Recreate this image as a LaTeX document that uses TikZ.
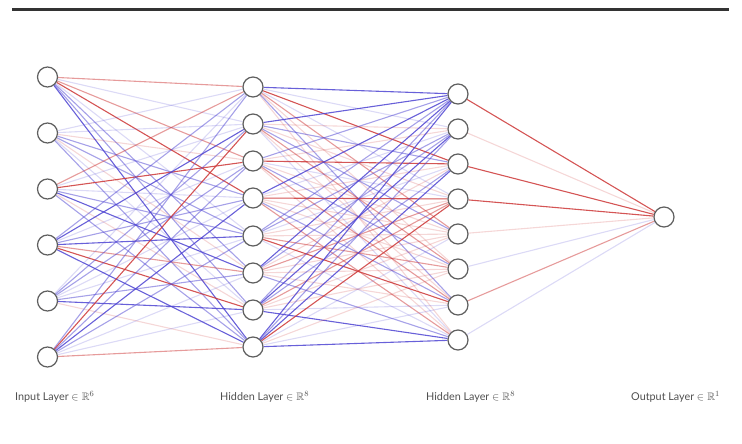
\documentclass[tikz,border=0pt]{standalone}
\usepackage{fontspec}
\usepackage{amssymb}
\usetikzlibrary{backgrounds}
\setmainfont{Lato}
\definecolor{wred}{RGB}{205,55,55}
\definecolor{wblue}{RGB}{78,68,210}
\definecolor{ringgray}{RGB}{95,95,95}
\definecolor{labelgray}{RGB}{80,80,80}
\tikzset{
  neuron/.style={circle,draw=ringgray,fill=white,line width=1.2pt,minimum size=20pt,inner sep=0pt},
  wire/.style={line width=1.1pt},
  R3/.style={wire,draw=wred,draw opacity=0.85},
  R2/.style={wire,draw=wred,draw opacity=0.5},
  R1/.style={wire,draw=wred,draw opacity=0.2},
  B3/.style={wire,draw=wblue,draw opacity=0.85},
  B2/.style={wire,draw=wblue,draw opacity=0.5},
  B1/.style={wire,draw=wblue,draw opacity=0.2},
  layerlabel/.style={anchor=west,text=labelgray,font=\fontsize{10.8}{12}\selectfont,inner sep=0pt}
}
\begin{document}
\begin{tikzpicture}[x=1pt,y=-1pt]
\useasboundingbox (0,0) rectangle (742,444);
% rule across the top
\draw[line width=3pt,draw=black!80] (12,9.5) -- (729,9.5);

% neurons
\foreach \k/\y in {1/77,2/133,3/189,4/245,5/301,6/357}
  \node[neuron] (i\k) at (47.5,\y) {};
\foreach \k/\y in {1/87,2/124,3/161,4/198,5/236,6/273,7/310,8/347}
  \node[neuron] (h\k) at (253,\y) {};
\foreach \k/\y in {1/94,2/129,3/164,4/199,5/234,6/269,7/305,8/340}
  \node[neuron] (g\k) at (458,\y) {};
\node[neuron] (o) at (664,217) {};

\begin{scope}[on background layer]
% weights: input -> first hidden layer
\foreach \s/\lst in {
  1/{R2,B1,R2,R3,B1,B2,B2,B3},
  2/{B1,B1,R1,B2,B2,R1,B1,B2},
  3/{R2,B1,R3,B1,B2,B3,R1,B2},
  4/{B2,B3,B1,B2,B3,R2,R3,B3},
  5/{B1,B2,B2,B1,B1,B2,B3,R1},
  6/{B2,R3,B2,B3,B2,B1,B1,R2}}
  \foreach \st [count=\t] in \lst
    \draw[\st] (i\s) -- (h\t);
% weights: first hidden -> second hidden layer
\foreach \s/\lst in {
  1/{B3,B1,R3,B1,R2,R1,B2,R1},
  2/{B3,R1,B2,R1,B2,R2,R1,B1},
  3/{B2,R1,R3,B1,R1,B2,R2,R1},
  4/{B3,B1,R1,R3,R1,R1,B2,R2},
  5/{B2,B2,B1,R1,R1,R2,R3,B1},
  6/{B3,B2,R1,R2,R1,R1,R1,B2},
  7/{B2,B3,B2,R2,R1,R1,B1,B3},
  8/{B3,B2,B3,R3,B1,R1,B1,B3}}
  \foreach \st [count=\t] in \lst
    \draw[\st] (h\s) -- (g\t);
% weights: second hidden -> output
\foreach \st [count=\s] in {R3,R1,R3,R3,R1,B1,R2,B1}
  \draw[\st] (g\s) -- (o);
\end{scope}

% layer captions
\node[layerlabel] (l1) at (15,397) {Input Layer $\in\mathbb{R}^6$};
\node[layerlabel] (l2) at (220,397) {Hidden Layer $\in\mathbb{R}^8$};
\node[layerlabel] (l3) at (426,397) {Hidden Layer $\in\mathbb{R}^8$};
\node[layerlabel] (l4) at (631,397) {Output Layer $\in\mathbb{R}^1$};
\end{tikzpicture}
\end{document}
